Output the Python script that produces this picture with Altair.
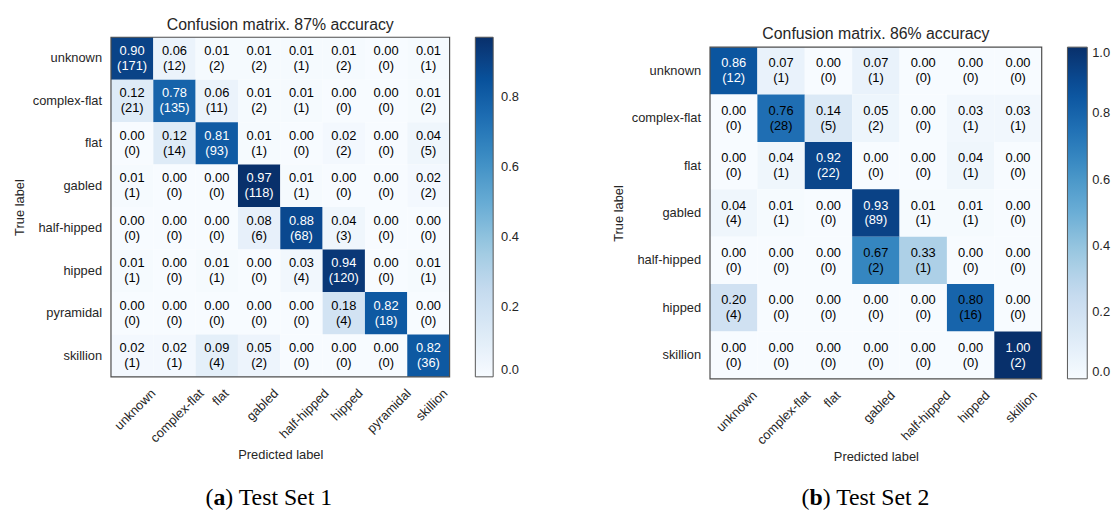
import altair as alt
import pandas as pd

# ---------------- data ----------------
cats1 = ["unknown", "complex-flat", "flat", "gabled", "half-hipped", "hipped", "pyramidal", "skillion"]
prop1 = [
    [0.90, 0.06, 0.01, 0.01, 0.01, 0.01, 0.00, 0.01],
    [0.12, 0.78, 0.06, 0.01, 0.01, 0.00, 0.00, 0.01],
    [0.00, 0.12, 0.81, 0.01, 0.00, 0.02, 0.00, 0.04],
    [0.01, 0.00, 0.00, 0.97, 0.01, 0.00, 0.00, 0.02],
    [0.00, 0.00, 0.00, 0.08, 0.88, 0.04, 0.00, 0.00],
    [0.01, 0.00, 0.01, 0.00, 0.03, 0.94, 0.00, 0.01],
    [0.00, 0.00, 0.00, 0.00, 0.00, 0.18, 0.82, 0.00],
    [0.02, 0.02, 0.09, 0.05, 0.00, 0.00, 0.00, 0.82],
]
count1 = [
    [171, 12, 2, 2, 1, 2, 0, 1],
    [21, 135, 11, 2, 1, 0, 0, 2],
    [0, 14, 93, 1, 0, 2, 0, 5],
    [1, 0, 0, 118, 1, 0, 0, 2],
    [0, 0, 0, 6, 68, 3, 0, 0],
    [1, 0, 1, 0, 4, 120, 0, 1],
    [0, 0, 0, 0, 0, 4, 18, 0],
    [1, 1, 4, 2, 0, 0, 0, 36],
]

cats2 = ["unknown", "complex-flat", "flat", "gabled", "half-hipped", "hipped", "skillion"]
prop2 = [
    [0.86, 0.07, 0.00, 0.07, 0.00, 0.00, 0.00],
    [0.00, 0.76, 0.14, 0.05, 0.00, 0.03, 0.03],
    [0.00, 0.04, 0.92, 0.00, 0.00, 0.04, 0.00],
    [0.04, 0.01, 0.00, 0.93, 0.01, 0.01, 0.00],
    [0.00, 0.00, 0.00, 0.67, 0.33, 0.00, 0.00],
    [0.20, 0.00, 0.00, 0.00, 0.00, 0.80, 0.00],
    [0.00, 0.00, 0.00, 0.00, 0.00, 0.00, 1.00],
]
count2 = [
    [12, 1, 0, 1, 0, 0, 0],
    [0, 28, 5, 2, 0, 1, 1],
    [0, 1, 22, 0, 0, 1, 0],
    [4, 1, 0, 89, 1, 1, 0],
    [0, 0, 0, 2, 1, 0, 0],
    [4, 0, 0, 0, 0, 16, 0],
    [0, 0, 0, 0, 0, 0, 2],
]

title1 = "Confusion matrix. 87% accuracy"
title2 = "Confusion matrix. 86% accuracy"
caption1 = ["(", "a", ") Test Set 1"]
caption2 = ["(", "b", ") Test Set 2"]
cbar_ticks1 = [0.0, 0.2, 0.4, 0.6, 0.8]
cbar_ticks2 = [0.0, 0.2, 0.4, 0.6, 0.8, 1.0]
x_title = "Predicted label"
y_title = "True label"

# ---------------- style ----------------
BLUES = ["#f7fbff", "#deebf7", "#c6dbef", "#9ecae1", "#6baed6",
         "#4292c6", "#2171b5", "#08519c", "#08306b"]
FONT = "Liberation Sans"
SERIF = "Liberation Serif"
INK = "#262626"
FRAME = "#4d4d4d"

# Arial / Liberation Sans advance widths (per 1000 em) for label offsets
AW = {"a": 556, "b": 556, "c": 500, "d": 556, "e": 556, "f": 278, "g": 556,
      "h": 556, "i": 222, "k": 500, "l": 222, "m": 833, "n": 556, "o": 556,
      "p": 556, "r": 333, "s": 500, "t": 278, "u": 556, "w": 722, "x": 500,
      "y": 500, "-": 333}


def text_w(s, size=13):
    return sum(AW.get(c, 556) for c in s) * size / 1000.0


def label_offset(cats):
    conds = [{"test": "datum.value === '%s'" % c, "value": round(text_w(c) / 3.0, 1)}
             for c in cats]
    return {"condition": conds, "value": 0}


def long_df(cats, prop, count):
    rows = []
    for i, t in enumerate(cats):
        for j, p in enumerate(cats):
            rows.append({"true": t, "pred": p, "p": prop[i][j], "n": count[i][j]})
    return pd.DataFrame(rows)


def panel(cats, prop, count, title, w, h, top, thresh, ticks, thick, loff_lab,
          caption, cap_x, cap_y, bold_w, title_offset):
    """top: vertical pixel shift of the matrix inside the panel."""
    df = long_df(cats, prop, count)
    vmax = max(max(r) for r in prop)
    stops = [vmax * k / 8.0 for k in range(9)]
    H = h + top

    base = alt.Chart(df).encode(
        x=alt.X("pred:N", sort=cats, scale=alt.Scale(padding=0),
                axis=alt.Axis(title=x_title, labelAngle=-45, labelAlign="right",
                              labelBaseline="top", labelPadding=10,
                              labelOffset=label_offset(cats), ticks=False,
                              tickSize=0, domain=False, labelOverlap=False,
                              titlePadding=4)),
        y=alt.Y("true:N", sort=cats, scale=alt.Scale(padding=0, range=[top, H]),
                axis=alt.Axis(title=y_title, ticks=False, tickSize=0, domain=False,
                              labelPadding=9.5, titlePadding=6)),
    )
    rect = base.mark_rect().encode(
        color=alt.Color("p:Q", scale=alt.Scale(domain=stops, range=BLUES),
                        legend=alt.Legend(orient="none", legendX=w + 26, legendY=top,
                                          title=None,
                                          gradientLength=h, gradientThickness=thick,
                                          values=ticks, format=".1f",
                                          labelFontSize=13, labelFont=FONT,
                                          labelColor=INK, labelOffset=loff_lab,
                                          labelBaseline="middle",
                                          labelOverlap=False, direction="vertical",
                                          gradientStrokeColor="#555555",
                                          gradientStrokeWidth=1, padding=0)))
    tcolor = alt.condition("datum.p > %f" % thresh, alt.value("white"), alt.value("black"))
    t1 = base.mark_text(dy=-7.5, fontSize=13, font=FONT, baseline="middle").encode(
        text=alt.Text("p:Q", format=".2f"), color=tcolor)
    t2 = base.transform_calculate(ct="'(' + datum.n + ')'").mark_text(
        dy=7.5, fontSize=13, font=FONT, baseline="middle").encode(
        text=alt.Text("ct:N"), color=tcolor)

    # axes frame (matplotlib spines)
    frame = alt.Chart(pd.DataFrame({"f": [0]})).mark_rect(
        filled=False, stroke=FRAME, strokeWidth=1.2).encode(
        x=alt.value(0), x2=alt.value(w), y=alt.value(top), y2=alt.value(H))

    paren_w = 0.333 * 24
    caps = []
    xs = [cap_x, cap_x + paren_w, cap_x + paren_w + bold_w]
    weights = ["normal", "bold", "normal"]
    for piece, xx, wt in zip(caption, xs, weights):
        caps.append(
            alt.Chart(pd.DataFrame({"t": [piece]})).mark_text(
                font=SERIF, fontSize=24, fontWeight=wt, align="left",
                baseline="alphabetic", color="black").encode(
                text="t:N", x=alt.value(xx), y=alt.value(cap_y)))

    return alt.layer(rect, t1, t2, frame, *caps).properties(
        width=w, height=H,
        title=alt.TitleParams(text=title, fontSize=16, font=FONT, color=INK,
                              fontWeight="normal", offset=title_offset,
                              anchor="middle"))


left = panel(cats1, prop1, count1, title1, 342, 343, 0, 0.485, cbar_ticks1, 18, 8,
             caption1, 95.5, 472, 0.5 * 24, 4)
right = panel(cats2, prop2, count2, title2, 335, 335, 10, 0.85, cbar_ticks2, 20, 5,
              caption2, 92.5, 472, 0.556 * 24, -5)

chart = alt.hconcat(left, right, spacing=91).resolve_scale(
    color="independent"
).properties(
    padding={"left": 4, "top": 5, "right": 0, "bottom": 0}
).configure_view(
    stroke="transparent"
).configure_axis(
    labelFont=FONT, titleFont=FONT, labelColor=INK, titleColor=INK,
    labelFontSize=13, titleFontSize=13, titleFontWeight="normal"
)

chart.save("out.html", embed_options={"renderer": "svg", "actions": False})
